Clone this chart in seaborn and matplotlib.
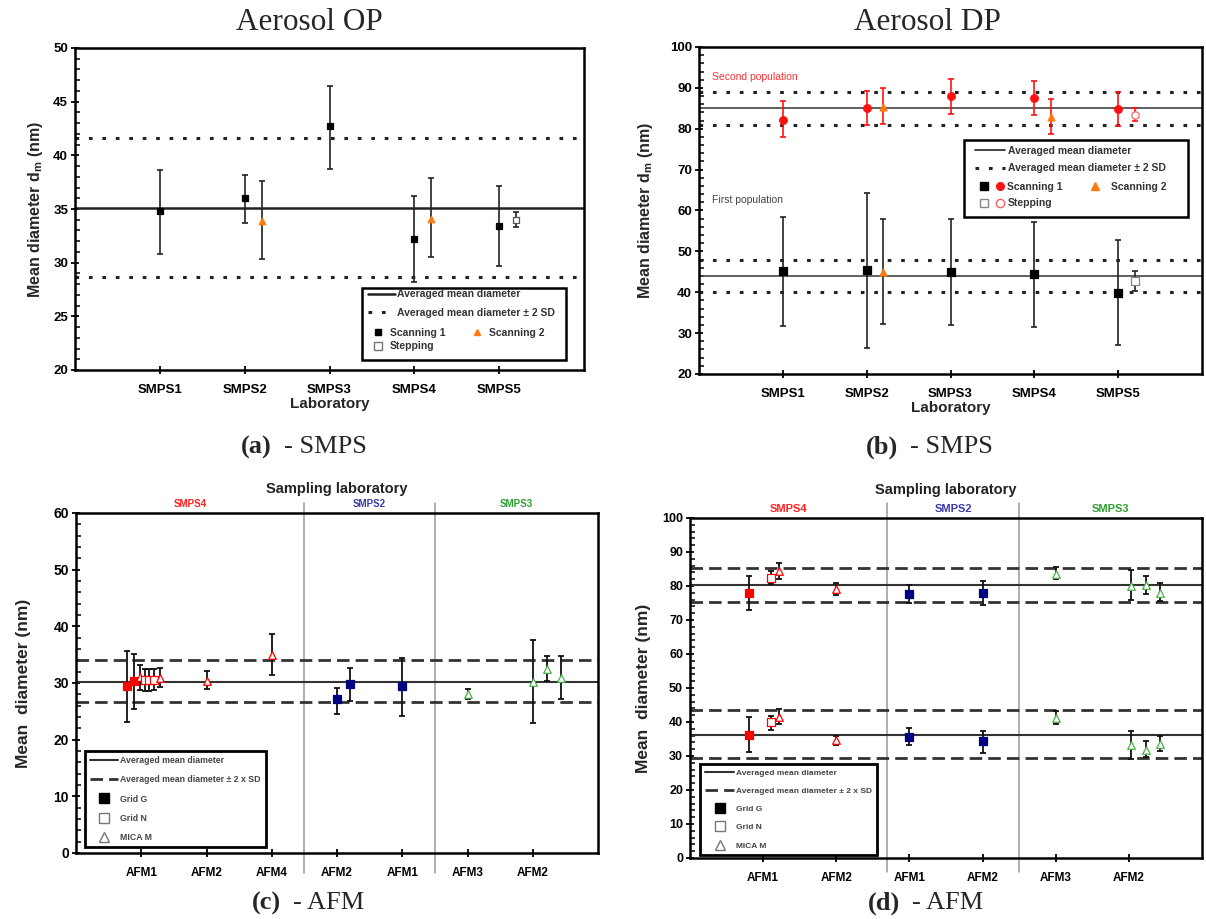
import numpy as np
import seaborn as sns
import matplotlib.pyplot as plt
from matplotlib.lines import Line2D
from matplotlib.patches import Rectangle
from matplotlib.legend_handler import HandlerTuple
from matplotlib.ticker import MultipleLocator

# ---- data: (a) aerosol OP, SMPS
op_labs = ["SMPS1", "SMPS2", "SMPS3", "SMPS4", "SMPS5"]
op_s1 = [34.8, 36.0, 42.7, 32.2, 33.4]
op_s1_lo = [30.8, 33.7, 38.7, 28.2, 29.7]
op_s1_hi = [38.6, 38.2, 46.5, 36.2, 37.1]
op_s2_at = ["SMPS2", "SMPS4"]
op_s2 = [33.9, 34.1]
op_s2_lo = [30.3, 30.5]
op_s2_hi = [37.6, 37.9]
op_st_at = ["SMPS5"]
op_st = [34.0]
op_st_lo = [33.3]
op_st_hi = [34.7]
op_mean = 35.1
op_band = [28.7, 41.6]

# ---- data: (b) aerosol DP, SMPS (two populations)
dp_s1_hi_pop = [82.2, 85.1, 87.9, 87.6, 84.9]
dp_s1_hi_pop_lo = [78.0, 81.0, 83.5, 83.3, 80.7]
dp_s1_hi_pop_hi = [86.7, 89.2, 92.2, 91.8, 89.0]
dp_s2_at = ["SMPS2", "SMPS4"]
dp_s2_hi_pop = [85.3, 82.8]
dp_s2_hi_pop_lo = [81.2, 78.7]
dp_s2_hi_pop_hi = [90.0, 87.2]
dp_st_at = ["SMPS5"]
dp_st_hi_pop = [83.4]
dp_st_hi_pop_lo = [82.0]
dp_st_hi_pop_hi = [85.0]
dp_s1_lo_pop = [45.2, 45.4, 45.0, 44.5, 39.9]
dp_s1_lo_pop_lo = [31.8, 26.3, 32.0, 31.5, 27.0]
dp_s1_lo_pop_hi = [58.4, 64.3, 58.0, 57.2, 52.8]
dp_s2_lo_at = ["SMPS2"]
dp_s2_lo_pop = [44.9]
dp_s2_lo_pop_lo = [32.3]
dp_s2_lo_pop_hi = [58.0]
dp_st_lo_pop = [42.8]
dp_st_lo_pop_lo = [40.3]
dp_st_lo_pop_hi = [45.3]
dp_means = [85.0, 44.0]
dp_bands = [[81.0, 89.0], [40.0, 48.0]]

# ---- data: (c) AFM, aerosol OP
c_ticks = ["AFM1", "AFM2", "AFM4", "AFM2", "AFM1", "AFM3", "AFM2"]
c_groups = ["SMPS4", "SMPS2", "SMPS3"]
c_pos = [1, 1, 1, 1, 1, 1, 1, 2, 3, 4, 4, 5, 6, 7, 7, 7]
c_kind = ["G", "G", "M", "N", "N", "N", "M", "M", "M", "G", "G", "G", "M", "M", "M", "M"]
c_lab = ["SMPS4"] * 9 + ["SMPS2"] * 3 + ["SMPS3"] * 4
c_val = [29.4, 30.3, 31.1, 30.5, 30.5, 30.6, 30.9, 30.4, 34.9, 27.1, 29.8, 29.4, 28.1, 30.1, 32.5, 30.9]
c_lo = [23.1, 25.5, 28.8, 28.6, 28.6, 28.8, 29.3, 28.9, 31.4, 24.5, 26.9, 24.1, 27.2, 22.9, 30.4, 27.2]
c_hi = [35.6, 35.1, 33.1, 32.4, 32.4, 32.4, 32.7, 32.2, 38.6, 29.2, 32.7, 34.4, 29.0, 37.6, 34.8, 34.8]
c_mean = 30.2
c_band = [26.7, 34.0]

# ---- data: (d) AFM, aerosol DP
d_ticks = ["AFM1", "AFM2", "AFM1", "AFM2", "AFM3", "AFM2"]
d_groups = ["SMPS4", "SMPS2", "SMPS3"]
d_pos = [1, 1, 1, 2, 3, 4, 5, 6, 6, 6]
d_kind = ["G", "N", "M", "M", "G", "G", "M", "M", "M", "M"]
d_lab = ["SMPS4"] * 4 + ["SMPS2"] * 2 + ["SMPS3"] * 4
d_up = [77.9, 82.4, 84.4, 79.0, 77.7, 77.9, 83.4, 80.0, 80.2, 77.9]
d_up_lo = [72.8, 80.5, 82.2, 77.3, 75.1, 74.5, 82.0, 76.0, 77.7, 75.5]
d_up_hi = [82.9, 84.4, 86.8, 81.0, 80.4, 81.4, 85.6, 84.6, 82.9, 81.0]
d_low = [36.3, 40.0, 41.5, 34.8, 35.6, 34.3, 41.3, 33.1, 31.9, 33.6]
d_low_lo = [31.2, 37.7, 39.5, 33.3, 33.2, 30.9, 39.5, 29.2, 29.7, 31.4]
d_low_hi = [41.5, 41.7, 43.7, 35.9, 38.3, 37.4, 43.2, 37.4, 34.3, 35.9]
d_means = [80.2, 36.3]
d_bands = [[75.3, 85.2], [29.3, 43.4]]

# ---- layout / style (not data)
c_off = [-0.22, -0.11, -0.02, 0.05, 0.12, 0.19, 0.28, 0, 0, 0, 0.2, 0, 0, 0, 0.22, 0.44]
c_seps = [3.5, 5.5]
d_off = [-0.19, 0.11, 0.22, 0, 0, 0, 0, 0.03, 0.23, 0.42]
d_seps = [2.7, 4.5]
lab_col = {"SMPS4": "#ff0000", "SMPS2": "#000080", "SMPS3": "#4cae4c"}
grp_txt_col = {"SMPS4": "#ff2020", "SMPS2": "#3a3aa8", "SMPS3": "#2ea02e"}
kind_mark = {"G": "s", "N": "s", "M": "^"}
ORANGE = "#ff7a10"
RED = "#ff1010"
DOTS = (0, (1.2, 3.2))
DASH = (0, (4.5, 2.2))
LEGEND_LABELS = ["Averaged mean diameter", "Averaged mean diameter ± 2 x SD", "Grid G", "Grid N", "MICA M"]

sns.set_theme(style="ticks")
plt.rcParams['font.family'] = ['Liberation Sans', 'DejaVu Sans']
plt.rcParams['mathtext.fontset'] = 'custom'
plt.rcParams['mathtext.bf'] = 'Liberation Sans:bold'
plt.rcParams['mathtext.rm'] = 'Liberation Sans'

W, H = 1206, 919
fig = plt.figure(figsize=(W / 100, H / 100), dpi=100)
fig.patch.set_facecolor("white")


def px_axes(left, top, right, bottom):
    return fig.add_axes([left / W, 1 - bottom / H, (right - left) / W, (bottom - top) / H])


def style(ax, ylo, yhi, major, minor, ysize, xsize):
    ax.set_facecolor("white")
    ax.set_ylim(ylo, yhi)
    ax.yaxis.set_major_locator(MultipleLocator(major))
    ax.yaxis.set_minor_locator(MultipleLocator(minor))
    for s in ax.spines.values():
        s.set_linewidth(1.8)
        s.set_color("black")
    ax.tick_params(axis="y", which="major", direction="inout", length=6, width=1.3,
                   labelsize=ysize, colors="black", pad=2)
    ax.tick_params(axis="y", which="minor", direction="in", length=3.5, width=1.1, colors="black")
    ax.tick_params(axis="x", which="major", direction="inout", length=6, width=1.3,
                   labelsize=xsize, colors="black", pad=7)
    for t in ax.get_yticklabels() + ax.get_xticklabels():
        t.set_fontweight("bold")


def pts(ax, x, y, lo, hi, marker, face, edge, ecol, size, cap=2.5, lw=1.2):
    y = np.asarray(y, dtype=float)
    err = [y - np.asarray(lo), np.asarray(hi) - y]
    ax.errorbar(x, y, yerr=err, fmt="none", ecolor=ecol, elinewidth=lw,
                capsize=cap, capthick=lw, zorder=2)
    sns.scatterplot(x=np.asarray(x, dtype=float), y=y, marker=marker, s=size, color=face,
                    edgecolor=edge, linewidth=0.9, ax=ax, zorder=3, legend=False)


def caption(xsplit, ymid, letter, rest):
    fig.text(xsplit / W, 1 - ymid / H, "(" + letter + ")", ha="right", va="center",
             family="Liberation Serif", fontsize=19, fontweight="bold")
    fig.text((xsplit + 12) / W, 1 - ymid / H, "- " + rest, ha="left", va="center",
             family="Liberation Serif", fontsize=19)


def grey_texts(leg):
    for t in leg.get_texts():
        t.set_color("#333333")


# =============== (a) ===============
ax = px_axes(75, 48, 584, 370)
xmap = {l: i + 1 for i, l in enumerate(op_labs)}
ax.axhline(op_mean, color="#222222", lw=1.8, zorder=1)
for b in op_band:
    ax.axhline(b, color="#222222", lw=2.2, ls=DOTS, zorder=1)
pts(ax, range(1, 6), op_s1, op_s1_lo, op_s1_hi, "s", "black", "black", "#222222", 14)
pts(ax, [xmap[l] + 0.2 for l in op_s2_at], op_s2, op_s2_lo, op_s2_hi, "^", ORANGE, ORANGE, "#222222", 22)
pts(ax, [xmap[l] + 0.2 for l in op_st_at], op_st, op_st_lo, op_st_hi, "s", "white", "#555555", "#222222", 22)
ax.set_xlim(0, 6)
ax.set_xticks(range(1, 6))
ax.set_xticklabels(op_labs)
style(ax, 20, 50, 5, 1, 9.5, 9.5)
ax.set_xlabel("Laboratory", fontsize=11, fontweight="bold", labelpad=1)
ax.set_ylabel(r"Mean diameter d$_\mathbf{m}$ (nm)", fontsize=11.5, fontweight="bold", labelpad=6)
ax.add_patch(Rectangle((0.564, 0.031), 0.401, 0.224, transform=ax.transAxes, fill=False,
                       ec="black", lw=1.8, zorder=5))
h1 = [Line2D([], [], color="#222222", lw=1.8), Line2D([], [], color="#222222", lw=2.2, ls=DOTS)]
leg1 = ax.legend(h1, ["Averaged mean diameter", "Averaged mean diameter ± 2 SD"],
                 loc="upper left", bbox_to_anchor=(0.57, 0.26), frameon=False, handlelength=2.6,
                 handletextpad=0.2, labelspacing=0.8, borderaxespad=0, borderpad=0.3,
                 prop={"size": 7.5, "weight": "bold"})
grey_texts(leg1)
ax.add_artist(leg1)
h2 = [Line2D([], [], ls="none", marker="s", color="black", ms=5),
      Line2D([], [], ls="none", marker="s", mfc="white", mec="#777777", ms=6),
      Line2D([], [], ls="none", marker="^", color=ORANGE, ms=5)]
leg2 = ax.legend(h2, ["Scanning 1", "Stepping", "Scanning 2"], ncol=2, loc="upper left",
                 bbox_to_anchor=(0.58, 0.135), frameon=False, handlelength=1.2, handletextpad=0.6,
                 columnspacing=2.4, labelspacing=0.35, borderaxespad=0, borderpad=0.1,
                 prop={"size": 7.5, "weight": "bold"})
grey_texts(leg2)
fig.text(309 / W, 1 - 23 / H, "Aerosol OP", ha="center", va="center",
         family="Liberation Serif", fontsize=22.5)
caption(272, 447, "a", "SMPS")

# =============== (b) ===============
ax = px_axes(699, 47, 1202, 374)
for m, band in zip(dp_means, dp_bands):
    ax.axhline(m, color="#444444", lw=1.2, zorder=1)
    for b in band:
        ax.axhline(b, color="#222222", lw=2.2, ls=DOTS, zorder=1)
pts(ax, range(1, 6), dp_s1_hi_pop, dp_s1_hi_pop_lo, dp_s1_hi_pop_hi, "o", RED, RED, RED, 30)
pts(ax, [xmap[l] + 0.2 for l in dp_s2_at], dp_s2_hi_pop, dp_s2_hi_pop_lo, dp_s2_hi_pop_hi,
    "^", ORANGE, ORANGE, RED, 24)
pts(ax, [xmap[l] + 0.2 for l in dp_st_at], dp_st_hi_pop, dp_st_hi_pop_lo, dp_st_hi_pop_hi,
    "o", "white", "#ff6060", RED, 28)
pts(ax, range(1, 6), dp_s1_lo_pop, dp_s1_lo_pop_lo, dp_s1_lo_pop_hi, "s", "black", "black", "#222222", 40)
pts(ax, [xmap[l] + 0.2 for l in dp_s2_lo_at], dp_s2_lo_pop, dp_s2_lo_pop_lo, dp_s2_lo_pop_hi,
    "^", ORANGE, ORANGE, "#222222", 24)
pts(ax, [xmap[l] + 0.2 for l in dp_st_at], dp_st_lo_pop, dp_st_lo_pop_lo, dp_st_lo_pop_hi,
    "s", "white", "#888888", "#222222", 30)
ax.text(0.15, 92.7, "Second population", color="#ff3030", fontsize=7.5, va="center")
ax.text(0.15, 62.6, "First population", color="#444444", fontsize=7.5, va="center")
ax.set_xlim(0, 6)
ax.set_xticks(range(1, 6))
ax.set_xticklabels(op_labs)
style(ax, 20, 100, 10, 2, 9.5, 9.5)
ax.set_xlabel("Laboratory", fontsize=11, fontweight="bold", labelpad=1)
ax.set_ylabel(r"Mean diameter d$_\mathbf{m}$ (nm)", fontsize=11.5, fontweight="bold", labelpad=11)
ax.add_patch(Rectangle((0.526, 0.48), 0.446, 0.236, transform=ax.transAxes, fill=False,
                       ec="black", lw=1.8, zorder=5))
h1 = [Line2D([], [], color="#222222", lw=1.2), Line2D([], [], color="#222222", lw=2.2, ls=DOTS)]
leg1 = ax.legend(h1, ["Averaged mean diameter", "Averaged mean diameter ± 2 SD"],
                 loc="upper left", bbox_to_anchor=(0.545, 0.705), frameon=False, handlelength=2.9,
                 handletextpad=0.2, labelspacing=0.75, borderaxespad=0, borderpad=0.2,
                 prop={"size": 7.5, "weight": "bold"})
grey_texts(leg1)
ax.add_artist(leg1)
h2 = [(Line2D([], [], ls="none", marker="s", color="black", ms=5.5),
       Line2D([], [], ls="none", marker="o", color=RED, ms=5.5)),
      (Line2D([], [], ls="none", marker="s", mfc="white", mec="#888888", ms=6),
       Line2D([], [], ls="none", marker="o", mfc="white", mec="#ff6060", ms=6)),
      Line2D([], [], ls="none", marker="^", color=ORANGE, ms=5.5)]
leg2 = ax.legend(h2, ["Scanning 1", "Stepping", "Scanning 2"], ncol=2, loc="upper left",
                 bbox_to_anchor=(0.555, 0.59), frameon=False, handlelength=2.4, handletextpad=0.3,
                 columnspacing=1.9, labelspacing=0.6, borderaxespad=0, borderpad=0.1,
                 handler_map={tuple: HandlerTuple(ndivide=None, pad=0.6)},
                 prop={"size": 7.5, "weight": "bold"})
grey_texts(leg2)
fig.text(927 / W, 1 - 22 / H, "Aerosol DP", ha="center", va="center",
         family="Liberation Serif", fontsize=22.5)
caption(898, 447, "b", "SMPS")


# =============== (c) & (d) ===============
def afm_panel(ax, ticks, groups, pos, off, kind, lab, series, means, bands, seps,
              ymax, ysize, sep_lims, grp_y, title_y, gsize, ypad):
    n = len(ticks)
    for m, band in zip(means, bands):
        ax.axhline(m, color="#333333", lw=1.5, zorder=1)
        for b in band:
            ax.axhline(b, color="#333333", lw=2.0, ls=DASH, zorder=1)
    for val, lo, hi in series:
        for p, o, k, g, v, l, h in zip(pos, off, kind, lab, val, lo, hi):
            col = lab_col[g]
            face = col if k == "G" else "white"
            pts(ax, [p + o], [v], [l], [h], kind_mark[k], face, col, "#111111", 30, cap=2.3, lw=1.3)
    for s in seps:
        ax.axvline(s, ymin=sep_lims[0], ymax=sep_lims[1], color="#999999", lw=1.1,
                   clip_on=False, zorder=0)
    edges = [0] + seps + [n + 1]
    for g, a, b in zip(groups, edges[:-1], edges[1:]):
        ax.text((a + b) / 2, grp_y, g, transform=ax.get_xaxis_transform(), ha="center",
                va="center", color=grp_txt_col[g], fontsize=gsize, fontweight="bold")
    ax.text(0.5, title_y, "Sampling laboratory", transform=ax.transAxes, ha="center",
            va="center", fontsize=10.5, fontweight="bold", color="#222222")
    ax.set_xlim(0, n + 1)
    ax.set_xticks(range(1, n + 1))
    ax.set_xticklabels(ticks)
    style(ax, 0, ymax, 10, 2, ysize, 8.5)
    ax.set_ylabel("Mean  diameter (nm)", fontsize=12.5, fontweight="bold", labelpad=ypad)
    h = [Line2D([], [], color="#333333", lw=1.5),
         Line2D([], [], color="#333333", lw=2.0, ls=DASH),
         Line2D([], [], ls="none", marker="s", color="black", ms=6.5),
         Line2D([], [], ls="none", marker="s", mfc="white", mec="#777777", ms=7),
         Line2D([], [], ls="none", marker="^", mfc="white", mec="#777777", ms=7.5)]
    return h


def afm_legend(ax, h, anchor, fsize, hlen, lspace):
    leg = ax.legend(h, LEGEND_LABELS, loc="lower left", bbox_to_anchor=anchor, frameon=True,
                    fancybox=False, edgecolor="black", framealpha=1, handlelength=hlen,
                    handletextpad=0.25, labelspacing=lspace, borderpad=0.6, borderaxespad=0,
                    prop={"size": fsize, "weight": "bold"})
    leg.get_frame().set_linewidth(2.0)
    for t in leg.get_texts():
        t.set_color("#444444")


ax = px_axes(76, 513, 598, 853)
h = afm_panel(ax, c_ticks, c_groups, c_pos, c_off, c_kind, c_lab, [(c_val, c_lo, c_hi)],
              [c_mean], [c_band], c_seps, 60, 10, (-0.06, 1.03), 1.026, 1.072, 7, 16)
afm_legend(ax, h, (0.017, 0.018), 6.3, 3.2, 1.15)
caption(281, 903, "c", "AFM")

ax = px_axes(690, 518, 1202, 858)
h = afm_panel(ax, d_ticks, d_groups, d_pos, d_off, d_kind, d_lab,
              [(d_up, d_up_lo, d_up_hi), (d_low, d_low_lo, d_low_hi)],
              d_means, d_bands, d_seps, 100, 9, (-0.04, 1.044), 1.026, 1.082, 8, 8)
afm_legend(ax, h, (0.02, 0.01), 6.0, 3.5, 1.25)
caption(900, 903, "d", "AFM")

fig.savefig("out.png", dpi=100, facecolor="white")
